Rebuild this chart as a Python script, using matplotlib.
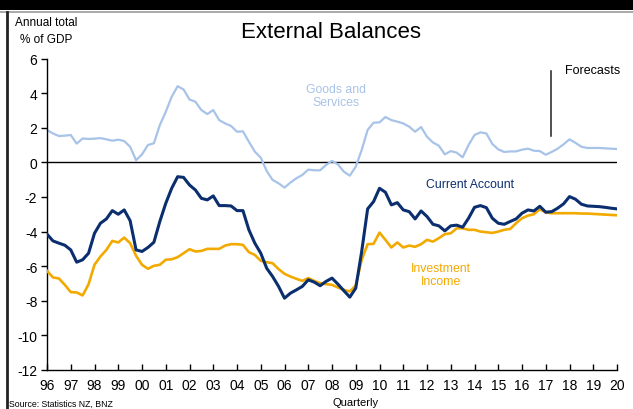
import numpy as np
import matplotlib
matplotlib.use("Agg")
import matplotlib.pyplot as plt
from matplotlib.lines import Line2D
from matplotlib.patches import Rectangle

# Quarterly series, annual totals as % of GDP, 1996Q1 - 2020Q1
start_year = 1996
goods_services = [
    1.87, 1.67, 1.52, 1.54, 1.58, 1.08, 1.38, 1.35,
    1.37, 1.40, 1.33, 1.25, 1.31, 1.23, 0.90, 0.12,
    0.46, 1.00, 1.10, 2.15, 2.92, 3.79, 4.40, 4.21,
    3.63, 3.50, 3.02, 2.79, 3.02, 2.44, 2.25, 2.10,
    1.77, 1.79, 1.19, 0.62, 0.27, -0.50, -1.02, -1.21,
    -1.46, -1.17, -0.92, -0.73, -0.42, -0.46, -0.46, -0.15,
    0.08, -0.12, -0.54, -0.77, -0.25, 0.71, 1.87, 2.29,
    2.31, 2.62, 2.44, 2.35, 2.25, 2.06, 1.77, 2.04,
    1.48, 1.15, 0.96, 0.46, 0.65, 0.56, 0.29, 1.00,
    1.58, 1.73, 1.67, 1.06, 0.75, 0.60, 0.63, 0.63,
    0.73, 0.79, 0.67, 0.65, 0.44, 0.60, 0.79, 1.04,
    1.33, 1.13, 0.90, 0.83, 0.83, 0.83, 0.81, 0.79,
    0.77,
]
current_account = [
    -4.15, -4.54, -4.67, -4.79, -5.06, -5.77, -5.63, -5.25,
    -4.10, -3.52, -3.27, -2.79, -3.00, -2.75, -3.37, -5.06,
    -5.15, -4.92, -4.62, -3.42, -2.37, -1.50, -0.83, -0.87,
    -1.31, -1.60, -2.08, -2.17, -1.94, -2.50, -2.50, -2.52,
    -2.79, -2.79, -3.90, -4.67, -5.25, -6.12, -6.60, -7.17,
    -7.85, -7.56, -7.37, -7.17, -6.79, -6.92, -7.13, -6.88,
    -6.69, -7.04, -7.42, -7.79, -7.27, -5.15, -2.69, -2.27,
    -1.50, -1.73, -2.46, -2.33, -2.75, -2.85, -3.27, -2.81,
    -3.13, -3.58, -3.67, -3.96, -3.67, -3.63, -3.75, -3.23,
    -2.60, -2.50, -2.62, -3.23, -3.52, -3.58, -3.42, -3.27,
    -2.94, -2.75, -2.81, -2.54, -2.88, -2.85, -2.65, -2.40,
    -1.98, -2.13, -2.42, -2.52, -2.54, -2.56, -2.60, -2.65,
    -2.69,
]
investment_income = [
    -6.27, -6.65, -6.71, -7.08, -7.50, -7.52, -7.69, -7.04,
    -5.92, -5.44, -5.06, -4.54, -4.63, -4.35, -4.67, -5.40,
    -5.92, -6.15, -5.98, -5.92, -5.63, -5.60, -5.48, -5.25,
    -5.02, -5.15, -5.12, -5.00, -5.00, -5.00, -4.81, -4.73,
    -4.73, -4.77, -5.19, -5.35, -5.69, -5.77, -5.83, -6.17,
    -6.44, -6.60, -6.73, -6.85, -6.69, -6.85, -6.98, -7.04,
    -7.08, -7.23, -7.37, -7.46, -7.12, -5.63, -4.73, -4.71,
    -4.06, -4.48, -4.92, -4.63, -4.92, -4.81, -4.88, -4.73,
    -4.48, -4.58, -4.38, -4.15, -4.10, -3.81, -3.81, -3.90,
    -3.90, -4.00, -4.04, -4.08, -4.00, -3.90, -3.85, -3.52,
    -3.23, -3.08, -3.00, -2.71, -2.90, -2.94, -2.94, -2.94,
    -2.94, -2.94, -2.96, -2.96, -2.98, -3.00, -3.02, -3.04,
    -3.06,
]
year_labels = ["96", "97", "98", "99", "00", "01", "02", "03", "04", "05",
               "06", "07", "08", "09", "10", "11", "12", "13", "14", "15",
               "16", "17", "18", "19", "20"]
y_ticks = [6, 4, 2, 0, -2, -4, -6, -8, -10, -12]
forecast_start = 2017.2

LIGHT_BLUE = "#a8c3e8"
NAVY = "#0b2e6f"
ORANGE = "#f2aa00"

plt.rcParams["font.family"] = ["Liberation Sans", "DejaVu Sans"]

fig = plt.figure(figsize=(6.33, 4.10), dpi=100)
W, H = 633, 410

# dark header band and frame edges
fig.patches.append(Rectangle((0, 1 - 11 / H), 1, 11 / H, transform=fig.transFigure,
                             facecolor="black", edgecolor="none", zorder=0))
fig.lines.append(Line2D([0, 1], [1 - 12.5 / H] * 2, transform=fig.transFigure,
                        color="#9a9a9a", lw=1.2))
fig.lines.append(Line2D([7 / W] * 2, [0, 1 - 13 / H], transform=fig.transFigure,
                        color="#222222", lw=2.0))

ax = fig.add_axes([47 / W, 1 - 371 / H, 570 / W, 311.5 / H])

n = len(goods_services)
t = start_year + np.arange(n) / 4.0

ax.axhline(0, color="black", lw=1.0, zorder=1)
ax.plot(t, goods_services, color=LIGHT_BLUE, lw=1.6, zorder=2)
ax.plot(t, investment_income, color=ORANGE, lw=1.9, zorder=3)
ax.plot(t, current_account, color=NAVY, lw=2.2, zorder=4)

ax.set_xlim(start_year, start_year + len(year_labels) - 1)
ax.set_ylim(-12, 6)

ax.set_xticks(start_year + np.arange(len(year_labels)))
ax.set_xticklabels(year_labels)
ax.set_yticks(y_ticks)
ax.set_yticklabels([str(v) for v in y_ticks])

ax.spines["top"].set_visible(False)
ax.spines["right"].set_visible(False)
for s in ("left", "bottom"):
    ax.spines[s].set_linewidth(1.0)
    ax.spines[s].set_color("black")

ax.tick_params(axis="x", direction="in", length=4, width=1, pad=6,
               labelsize=10, colors="black")
ax.tick_params(axis="y", direction="out", length=4, width=1, pad=3,
               labelsize=10, colors="black")

# forecast marker
ax.plot([forecast_start, forecast_start], [1.55, 5.3], color="#222222", lw=1.1)
ax.text(2017.8, 5.35, "Forecasts", fontsize=9, color="black",
        ha="left", va="center")

# series labels
ax.text(2008.15, 3.85, "Goods and\nServices", fontsize=8.8, color=LIGHT_BLUE,
        ha="center", va="center", linespacing=1.1)
ax.text(2013.8, -1.28, "Current Account", fontsize=8.8, color=NAVY,
        ha="center", va="center")
ax.text(2012.6, -6.5, "Investment\nIncome", fontsize=8.8, color=ORANGE,
        ha="center", va="center", linespacing=1.1)

# titles and notes
fig.text(331 / W, 1 - 33 / H, "External Balances", fontsize=16, color="black",
         ha="center", va="center")
fig.text(46 / W, 1 - 23 / H, "Annual total", fontsize=8.5, color="black",
         ha="center", va="center")
fig.text(46 / W, 1 - 40 / H, "% of GDP", fontsize=8.5, color="black",
         ha="center", va="center")
fig.text(9 / W, 1 - 404 / H, "Source: Statistics NZ, BNZ", fontsize=6.3,
         color="black", ha="left", va="center")
fig.text(356 / W, 1 - 403 / H, "Quarterly", fontsize=8, color="black",
         ha="center", va="center")

fig.savefig("out.png", dpi=100)
